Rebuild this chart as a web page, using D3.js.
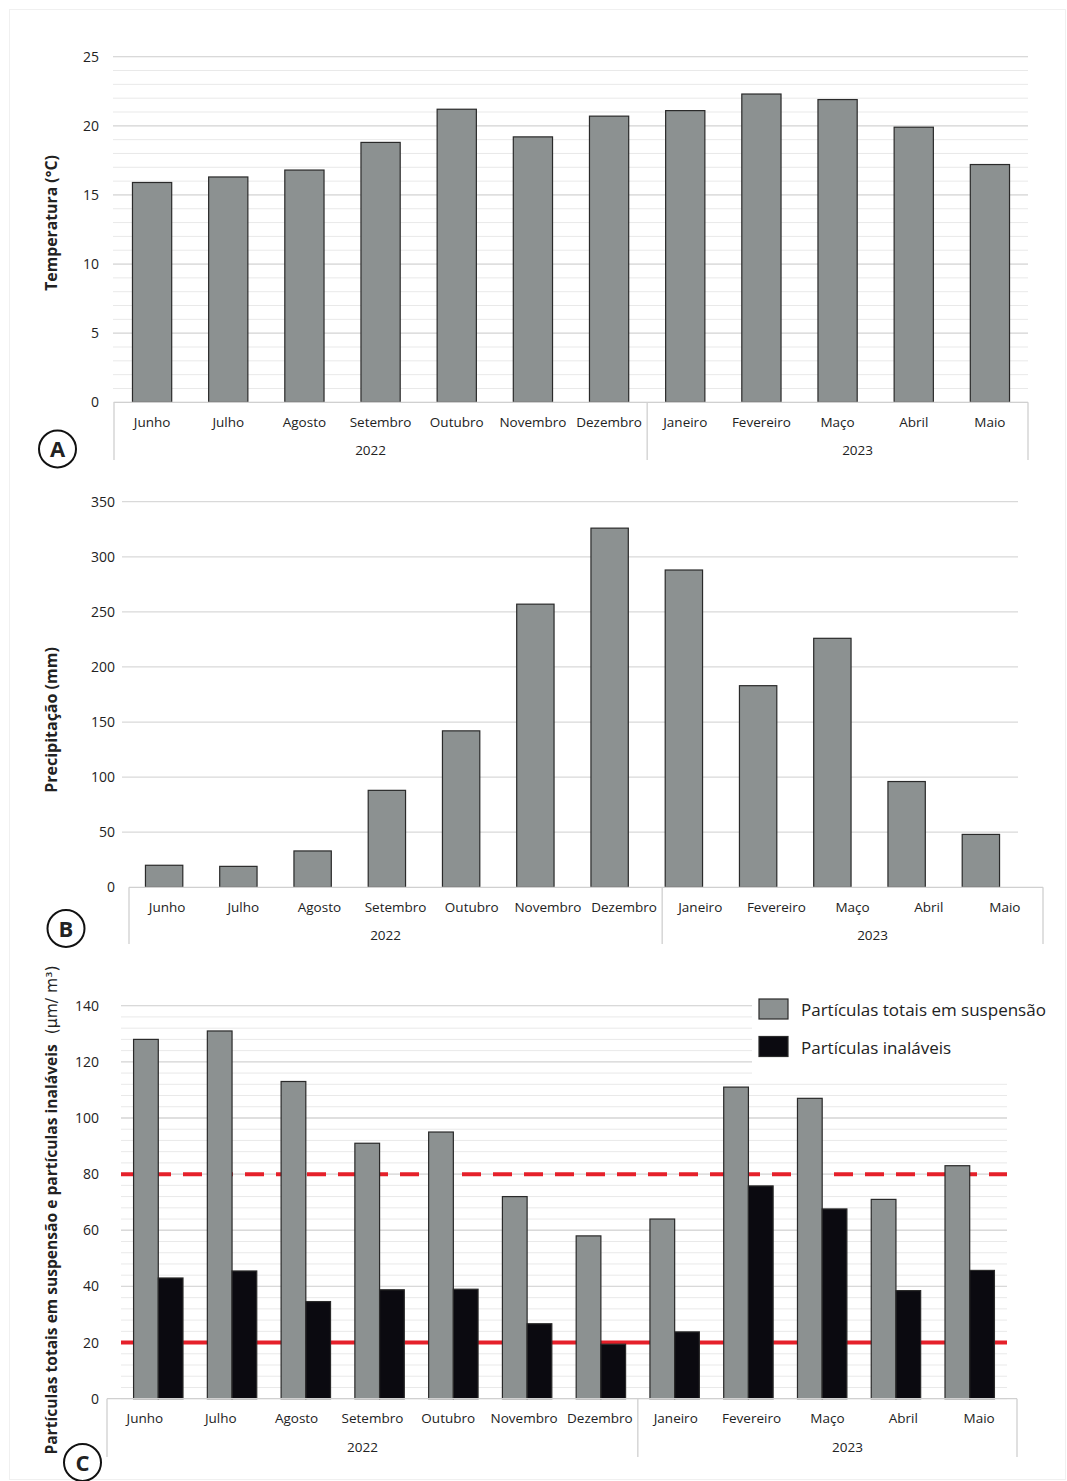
<!DOCTYPE html>
<html><head><meta charset="utf-8">
<script src="https://cdn.jsdelivr.net/npm/d3@7"></script>
<style>
body{margin:0;background:#fff}
svg{display:block}
text{font-family:"Open Sans",sans-serif;fill:#222}
</style>
</head><body>
<svg id="chart" width="1067" height="1481"></svg>
<script>
// ---------- data ----------
const months = ["Junho","Julho","Agosto","Setembro","Outubro","Novembro","Dezembro","Janeiro","Fevereiro","Maço","Abril","Maio"];
const years = ["2022","2023"];
const monthsPerYear = [7,5];
const temperature = [15.9,16.3,16.8,18.8,21.2,19.2,20.7,21.1,22.3,21.9,19.9,17.2];
const precipitation = [20,19,33,88,142,257,326,288,183,226,96,48];
const tsp = [128,131,113,91,95,72,58,64,111,107,71,83];
const inhalable = [43,45.5,34.6,38.8,39,26.7,19.4,23.8,75.8,67.6,38.5,45.7];
const tempTicks = [0,5,10,15,20,25];
const precTicks = [0,50,100,150,200,250,300,350];
const partTicks = [0,20,40,60,80,100,120,140];
const tspLimit = 80;
const inhalableLimit = 20;
const seriesLabels = ["Partículas totais em suspensão","Partículas inaláveis"];
const titles = {A:"Temperatura (°C)", B:"Precipitação (mm)", C:"Partículas totais em suspensão e partículas inaláveis", Cunit:"(µm/ m³)"};

// ---------- styles ----------
const GRAY = "#8c9191", BLACK = "#0b0a10", RED = "#e5202a";
const svg = d3.select("#chart");

function panel(cfg){
  const g = svg.append("g");
  const y = d3.scaleLinear().domain(cfg.domain).range([cfg.y0, cfg.yTop]);
  const xAxis = d3.scaleBand().domain(months).range(cfg.axisRange);
  const xBars = d3.scaleBand().domain(months).range(cfg.barRange)
      .paddingInner(cfg.pad).paddingOuter(cfg.pad/2);

  // minor grid
  if(cfg.minor){
    const minors = d3.range(cfg.domain[0], cfg.domain[1]+0.001, cfg.minor);
    g.append("g").selectAll("line").data(minors).join("line")
      .attr("x1",cfg.gridRange[0]).attr("x2",cfg.gridRange[1])
      .attr("y1",d=>y(d)).attr("y2",d=>y(d))
      .attr("stroke","#e9e9e9").attr("stroke-width",1);
  }
  // major grid
  g.append("g").selectAll("line").data(cfg.ticks.filter(d=>d>0)).join("line")
    .attr("x1",cfg.gridRange[0]).attr("x2",cfg.gridRange[1])
    .attr("y1",d=>y(d)).attr("y2",d=>y(d))
    .attr("stroke","#d9d9d9").attr("stroke-width",1.3);

  // tick labels
  g.append("g").selectAll("text").data(cfg.ticks).join("text")
    .attr("x",cfg.tickX).attr("y",d=>y(d)+5)
    .attr("text-anchor","end").attr("font-size",14).text(d=>d);

  // limit lines (behind bars)
  if(cfg.limits){
    cfg.limits.forEach(l=>{
      g.append("line").attr("x1",cfg.gridRange[0]).attr("x2",cfg.gridRange[1])
        .attr("y1",y(l.v)).attr("y2",y(l.v))
        .attr("stroke",RED).attr("stroke-width",4)
        .attr("stroke-dasharray",l.dash||null);
    });
  }

  // bars
  if(cfg.series.length===1){
    g.append("g").selectAll("rect").data(cfg.series[0].values).join("rect")
      .attr("x",(d,i)=>xBars(months[i])).attr("width",xBars.bandwidth())
      .attr("y",d=>y(d)).attr("height",d=>y(0)-y(d))
      .attr("fill",cfg.series[0].color).attr("stroke","#2a2a2a").attr("stroke-width",1.2);
  } else {
    const xs = d3.scaleBand().domain(d3.range(cfg.series.length)).range([0,xBars.bandwidth()]);
    cfg.series.forEach((s,si)=>{
      g.append("g").selectAll("rect").data(s.values).join("rect")
        .attr("x",(d,i)=>xBars(months[i])+xs(si)).attr("width",xs.bandwidth())
        .attr("y",d=>y(d)).attr("height",d=>y(0)-y(d))
        .attr("fill",s.color).attr("stroke","#2a2a2a").attr("stroke-width",1.2);
    });
  }

  // axis frame (baseline + group separators)
  g.append("line").attr("x1",cfg.axisRange[0]).attr("x2",cfg.axisRange[1])
    .attr("y1",y(0)).attr("y2",y(0)).attr("stroke","#d0d0d0").attr("stroke-width",1.3);
  let idx = 0;
  const seps = [cfg.axisRange[0]];
  monthsPerYear.forEach(n=>{ idx += n; seps.push(idx<months.length ? xAxis(months[idx]) : cfg.axisRange[1]); });
  g.append("g").selectAll("line").data(seps).join("line")
    .attr("x1",d=>d).attr("x2",d=>d).attr("y1",y(0)).attr("y2",cfg.frameBottom)
    .attr("stroke","#d0d0d0").attr("stroke-width",1.3);

  // month labels
  g.append("g").selectAll("text").data(months).join("text")
    .attr("x",d=>xAxis(d)+xAxis.bandwidth()/2).attr("y",cfg.monthY)
    .attr("text-anchor","middle").attr("font-size",13.5).text(d=>d);
  // year labels
  const yearOffsets = [-10, 20];
  g.append("g").selectAll("text").data(years).join("text")
    .attr("x",(d,i)=>(seps[i]+seps[i+1])/2 + yearOffsets[i]).attr("y",cfg.yearY)
    .attr("text-anchor","middle").attr("font-size",13.5).text(d=>d);

  // y title
  const t = g.append("text").attr("transform",`translate(${cfg.titleX},${cfg.titleY}) rotate(-90)`)
    .attr("text-anchor","middle").attr("font-size",cfg.titleSize);
  t.append("tspan").attr("font-weight","bold").text(cfg.title);
  if(cfg.unit) t.append("tspan").attr("font-weight","normal").attr("font-family","DejaVu Sans").attr("font-size",cfg.titleSize).text("\u00a0\u00a0"+cfg.unit);

  // circled letter
  g.append("circle").attr("cx",cfg.circle[0]).attr("cy",cfg.circle[1]).attr("r",18.5)
    .attr("fill","#fff").attr("stroke","#111").attr("stroke-width",2);
  g.append("text").attr("x",cfg.circle[0]).attr("y",cfg.circle[1]+8)
    .attr("text-anchor","middle").attr("font-size",22).attr("font-weight","bold")
    .attr("font-family","Liberation Sans").text(cfg.letter);
  return {g,y};
}

// faint figure border
svg.append("rect").attr("x",9.5).attr("y",9.5).attr("width",1056).attr("height",1470)
  .attr("fill","none").attr("stroke","#f0f0f0");

panel({letter:"A", domain:[0,25], y0:402.3, yTop:56.7, ticks:tempTicks, minor:1,
  gridRange:[113,1028], barRange:[114,1028], axisRange:[114,1028], pad:0.485,
  tickX:99, frameBottom:460, monthY:426.5, yearY:455,
  title:titles.A, titleX:57, titleY:223, titleSize:15.8,
  circle:[57.5,449], series:[{values:temperature,color:GRAY}]});

panel({letter:"B", domain:[0,350], y0:887.3, yTop:501.7, ticks:precTicks,
  gridRange:[122,1018], barRange:[127,1018], axisRange:[129,1043], pad:0.497,
  tickX:115, frameBottom:944, monthY:911.5, yearY:940,
  title:titles.B, titleX:57, titleY:720, titleSize:16,
  circle:[66,928.5], series:[{values:precipitation,color:GRAY}]});

panel({letter:"C", domain:[0,140], y0:1398.7, yTop:1005.7, ticks:partTicks, minor:4,
  gridRange:[121,1007], barRange:[121.4,1006.6], axisRange:[107,1017], pad:0.33,
  tickX:99, frameBottom:1457, monthY:1423, yearY:1452,
  title:titles.C, unit:titles.Cunit, titleX:57, titleY:1210, titleSize:15.6,
  circle:[82.5,1462.5],
  limits:[{v:tspLimit,dash:"19,12"},{v:inhalableLimit}],
  series:[{values:tsp,color:GRAY},{values:inhalable,color:BLACK}]});

// legend (white box over grid)
const lg = svg.append("g");
lg.append("rect").attr("x",752).attr("y",995).attr("width",260).attr("height",82).attr("fill","#fff");
lg.append("rect").attr("x",1010).attr("y",995).attr("width",50).attr("height",30).attr("fill","#fff");
const legColors = [GRAY, BLACK];
seriesLabels.forEach((s,i)=>{
  lg.append("rect").attr("x",759).attr("y",999+i*37.5).attr("width",29).attr("height",20)
    .attr("fill",legColors[i]).attr("stroke","#2a2a2a").attr("stroke-width",1.2);
  lg.append("text").attr("x",801).attr("y",1016+i*38).attr("font-size",17).text(s);
});
</script>
</body></html>
